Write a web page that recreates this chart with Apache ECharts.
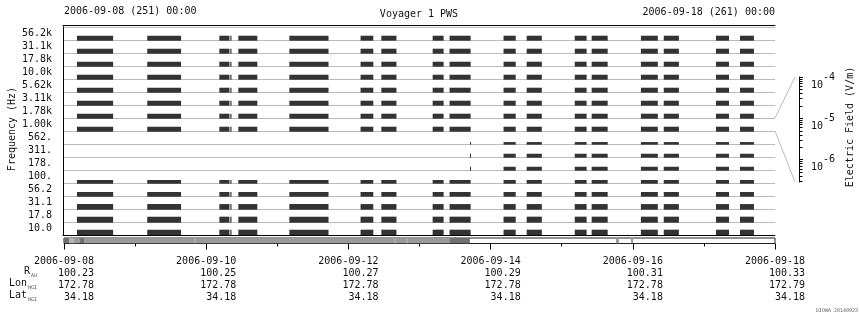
<!DOCTYPE html>
<html><head><meta charset="utf-8">
<script src="https://cdn.jsdelivr.net/npm/echarts@6/dist/echarts.min.js"></script>
<style>html,body{margin:0;padding:0;background:#fff}#c{width:860px;height:320px}</style>
</head><body><div id="c"></div><script>
// ---- data ----
const channels = ['56.2k','31.1k','17.8k','10.0k','5.62k','3.11k','1.78k','1.00k','562.','311.','178.','100.','56.2','31.1','17.8','10.0'];
// hours after 2006-09-08 00:00 : tracking passes seen in the upper and lower channel groups
const passesMain = [[4.7,16.9],[28.4,39.8],[52.7,56.1],[56.4,56.8],[59.1,65.5],[76.3,89.5],[100.3,104.6],[107.3,112.4],[124.6,128.3],[130.3,137.4],[148.5,152.6],[156.3,161.4],[172.5,176.5],[178.2,183.6],[194.8,200.5],[202.5,207.6],[220.1,224.5],[228.2,232.9]];
// passes seen in the 562 / 311 / 178 Hz channels
const passesMid = [[137.2,137.5],[148.5,152.6],[156.3,161.4],[172.5,176.5],[178.2,183.6],[194.8,200.5],[202.5,207.6],[220.1,224.5],[228.2,232.9]];
const mainChannels = [0,1,2,3,4,5,6,7,11,12,13,14,15];
const midChannels = [8,9,10];
// level of each channel as fraction of its band
const barLevel = [0.33,0.33,0.33,0.33,0.33,0.33,0.33,0.33,0.15,0.25,0.25,0.23,0.31,0.38,0.41,0.41];
// data coverage strip: [startHour, endHour, quality level]
const coverage = [[0,1.7,3],[1.7,3.4,1],[3.4,5.2,2],[5.2,6.75,3],[6.75,130.3,2],[44.0,44.4,1],[111.6,112.0,1],[115.6,116.0,1],[130.3,137.0,3],[186.3,187.3,2],[191.4,192.1,2]];
// bottom tick table
const dateLabels = ['2006-09-08','2006-09-10','2006-09-12','2006-09-14','2006-09-16','2006-09-18'];
const rAU = ['100.23','100.25','100.27','100.29','100.31','100.33'];
const lonHGI = ['172.78','172.78','172.78','172.78','172.78','172.79'];
const latHGI = ['34.18','34.18','34.18','34.18','34.18','34.18'];
// electric field scale (log10 V/m)
const efMin = -6.54, efMax = -4;
const efMajor = [-6,-5,-4];

// ---- build ----
const F = 'DejaVu Sans Mono';
const barData = [];
mainChannels.forEach(c => passesMain.forEach(p => barData.push([p[0], p[1], c, barLevel[c]])));
midChannels.forEach(c => passesMid.forEach(p => barData.push([p[0], p[1], c, barLevel[c]])));
const efMinor = [];
for (let n = -7; n <= -5; n++) for (let k = 2; k <= 9; k++) { const v = n + Math.log10(k); if (v >= efMin && v <= efMax) efMinor.push(v); }
const covColor = {1:'#b4b4b4',2:'#9a9a9a',3:'#707070'};

const chart = echarts.init(document.getElementById('c'));
chart.setOption({
  animation:false,
  textStyle:{fontFamily:F},
  grid:[
    {left:63, top:27, width:712, height:208},
    {left:64, top:238, width:711, height:5.5, show:true, borderColor:'#222', borderWidth:1, backgroundColor:'#fff'},
    {left:799, top:77, width:1, height:105}
  ],
  xAxis:[
    {gridIndex:0,type:'value',min:0,max:240,axisLine:{lineStyle:{color:'#000'}},axisTick:{show:false},axisLabel:{show:false},splitLine:{show:false}},
    {gridIndex:0,type:'value',position:'top',offset:2,min:0,max:240,axisLine:{show:true,lineStyle:{color:'#000'}},axisTick:{show:false},axisLabel:{show:false},splitLine:{show:false}},
    {gridIndex:1,type:'value',min:0,max:240,interval:48,axisLine:{show:false},
      axisTick:{show:true,length:6,lineStyle:{color:'#000'}},
      minorTick:{show:true,splitNumber:2,length:3,lineStyle:{color:'#000'}},
      splitLine:{show:false},
      axisLabel:{margin:11.5,color:'#111',fontSize:10,fontFamily:F,lineHeight:12,
        formatter:(v)=>{const i=Math.round(v/48);return [dateLabels[i],rAU[i].padStart(10,' '),lonHGI[i].padStart(10,' '),latHGI[i].padStart(10,' ')].join('\n');}}},
    {gridIndex:2,type:'value',show:false,min:0,max:1}
  ],
  yAxis:[
    {gridIndex:0,type:'category',inverse:true,data:channels,boundaryGap:true,
      axisLine:{lineStyle:{color:'#000'}},
      axisTick:{length:5,interval:0,lineStyle:{color:'#000'}},
      axisLabel:{interval:0,margin:11,color:'#111',fontSize:10,fontFamily:F},
      splitLine:{show:true,interval:0,lineStyle:{color:'#bbb'}}},
    {gridIndex:0,type:'value',position:'right',min:0,max:1,axisLine:{show:true,lineStyle:{color:'#000'}},axisTick:{show:false},axisLabel:{show:false},splitLine:{show:false}},
    {gridIndex:1,type:'value',min:0,max:1,show:false},
    {gridIndex:2,type:'value',position:'right',min:efMin,max:efMax,
      axisLine:{show:true,lineStyle:{color:'#000'}},
      axisTick:{show:true,length:4,customValues:efMajor,lineStyle:{color:'#000'}},
      axisLabel:{show:true,margin:11,customValues:efMajor,color:'#111',
        formatter:(v)=>'{b|10}{s|'+Math.round(v)+'}',
        rich:{b:{fontSize:10,fontFamily:F,lineHeight:10,padding:[8,0,0,0],verticalAlign:'top',color:'#111'},
              s:{fontSize:10,fontFamily:F,lineHeight:10,verticalAlign:'top',color:'#111'}}},
      splitLine:{show:false}},
    {gridIndex:2,type:'value',position:'right',min:efMin,max:efMax,
      axisLine:{show:false},
      axisTick:{show:true,length:2.5,customValues:efMinor,lineStyle:{color:'#000'}},
      axisLabel:{show:false},splitLine:{show:false}}
  ],
  series:[
    {type:'custom',xAxisIndex:0,yAxisIndex:0,data:barData,encode:{x:[0,1],y:2},clip:true,
      renderItem:(params,api)=>{
        const s=api.coord([api.value(0),api.value(2)]);
        const e=api.coord([api.value(1),api.value(2)]);
        const bh=api.size([0,1])[1];
        const yb=s[1]+bh/2;
        const h=api.value(3)*bh;
        return {type:'rect',shape:{x:s[0],y:yb-h,width:Math.max(e[0]-s[0],1),height:h+0.7},style:{fill:'#333'}};
      }},
    {type:'custom',xAxisIndex:2,yAxisIndex:2,data:coverage,encode:{x:[0,1]},clip:true,
      renderItem:(params,api)=>{
        const s=api.coord([api.value(0),1]);
        const e=api.coord([api.value(1),0]);
        return {type:'rect',shape:{x:s[0],y:s[1],width:Math.max(e[0]-s[0],1),height:e[1]-s[1]},style:{fill:covColor[api.value(2)]}};
      }}
  ],
  graphic:[
    {type:'text',left:64,top:6,style:{text:'2006-09-08 (251) 00:00',font:'10px "DejaVu Sans Mono"',fill:'#111'}},
    {type:'text',x:419,y:14.5,style:{text:'Voyager 1 PWS',font:'10px "DejaVu Sans Mono"',fill:'#111',align:'center',verticalAlign:'middle'}},
    {type:'text',x:775,y:12,style:{text:'2006-09-18 (261) 00:00',font:'10px "DejaVu Sans Mono"',fill:'#111',align:'right',verticalAlign:'middle'}},
    {type:'text',x:12,y:129,rotation:Math.PI/2,style:{text:'Frequency (Hz)',font:'10px "DejaVu Sans Mono"',fill:'#111',align:'center',verticalAlign:'middle'}},
    {type:'text',x:850,y:127,rotation:Math.PI/2,style:{text:'Electric Field (V/m)',font:'10px "DejaVu Sans Mono"',fill:'#111',align:'center',verticalAlign:'middle'}},
    {type:'line',shape:{x1:775,y1:118,x2:795,y2:77},style:{stroke:'#bbb',lineWidth:1}},
    {type:'line',shape:{x1:775,y1:131,x2:795,y2:182},style:{stroke:'#bbb',lineWidth:1}},
    {type:'text',x:37,y:272.5,style:{text:'{m|R}{u|AU}',align:'right',verticalAlign:'middle',rich:{m:{fontSize:10,fontFamily:F,lineHeight:12,verticalAlign:'top',fill:'#111'},u:{fontSize:5,fontFamily:F,lineHeight:6,padding:[7,0,0,1],verticalAlign:'top',fill:'#555'}}}},
    {type:'text',x:37,y:284.5,style:{text:'{m|Lon}{u|HGI}',align:'right',verticalAlign:'middle',rich:{m:{fontSize:10,fontFamily:F,lineHeight:12,verticalAlign:'top',fill:'#111'},u:{fontSize:5,fontFamily:F,lineHeight:6,padding:[7,0,0,1],verticalAlign:'top',fill:'#555'}}}},
    {type:'text',x:37,y:296.5,style:{text:'{m|Lat}{u|HGI}',align:'right',verticalAlign:'middle',rich:{m:{fontSize:10,fontFamily:F,lineHeight:12,verticalAlign:'top',fill:'#111'},u:{fontSize:5,fontFamily:F,lineHeight:6,padding:[7,0,0,1],verticalAlign:'top',fill:'#555'}}}},
    {type:'text',x:858,y:311,style:{text:'UIOWA 20140923',font:'5px "DejaVu Sans Mono"',fill:'#666',align:'right',verticalAlign:'middle'}}
  ]
});
</script></body></html>
